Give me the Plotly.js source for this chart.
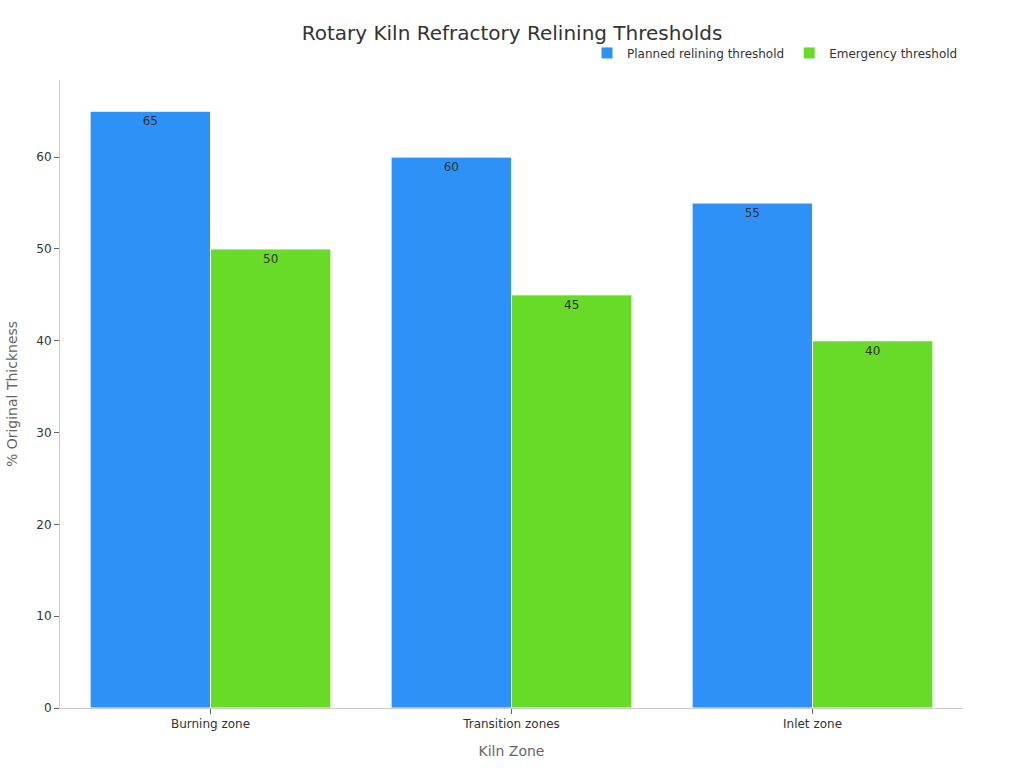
<!DOCTYPE html>
<html>
<head>
<meta charset="utf-8">
<script src="https://cdn.plot.ly/plotly-3.0.1.min.js"></script>
<style>
  html, body { margin: 0; padding: 0; background: #fff; }
  #chart { width: 1024px; height: 768px; }
</style>
</head>
<body>
<div id="chart"></div>
<script>
const zones = ['Burning zone', 'Transition zones', 'Inlet zone'];
const planned = [65, 60, 55];
const emergency = [50, 45, 40];

const barStyle = (color) => ({
    color: color,
    line: { color: '#ffffff', width: 1 }
});

const trace1 = {
    x: zones,
    y: planned,
    type: 'bar',
    name: 'Planned relining threshold',
    text: planned.map(String),
    textposition: 'inside',
    insidetextanchor: 'end',
    textfont: { color: '#333333', size: 12 },
    marker: barStyle('#2e91f7')
};

const trace2 = {
    x: zones,
    y: emergency,
    type: 'bar',
    name: 'Emergency threshold',
    text: emergency.map(String),
    textposition: 'inside',
    insidetextanchor: 'end',
    textfont: { color: '#333333', size: 12 },
    marker: barStyle('#67db27')
};

const layout = {
    width: 1024,
    height: 768,
    margin: { l: 60, r: 61, t: 80, b: 60 },
    font: { family: 'DejaVu Sans, sans-serif', size: 12, color: '#333333' },
    title: {
        text: 'Rotary Kiln Refractory Relining Thresholds',
        x: 0.5,
        xanchor: 'center',
        y: 1 - 33 / 768,
        yanchor: 'middle',
        font: { size: 20, color: '#333333' }
    },
    barmode: 'group',
    bargap: 0.2,
    bargroupgap: 0,
    showlegend: true,
    legend: {
        orientation: 'h',
        x: 1,
        xanchor: 'right',
        y: 1.02,
        yanchor: 'bottom',
        font: { size: 12 }
    },
    xaxis: {
        title: { text: 'Kiln Zone', standoff: 15, font: { size: 14, color: '#666666' } },
        showline: true,
        linecolor: '#cccccc',
        ticks: 'outside',
        tickcolor: '#666666',
        ticklen: 5,
        showgrid: false
    },
    yaxis: {
        title: { text: '% Original Thickness', standoff: 15, font: { size: 14, color: '#666666' } },
        range: [0, 68.4],
        dtick: 10,
        showline: true,
        linecolor: '#cccccc',
        ticks: 'outside',
        tickcolor: '#666666',
        ticklen: 5,
        showgrid: false,
        zeroline: false
    },
    plot_bgcolor: '#ffffff',
    paper_bgcolor: '#ffffff'
};

Plotly.newPlot('chart', [trace1, trace2], layout, { displayModeBar: false });
</script>
</body>
</html>
